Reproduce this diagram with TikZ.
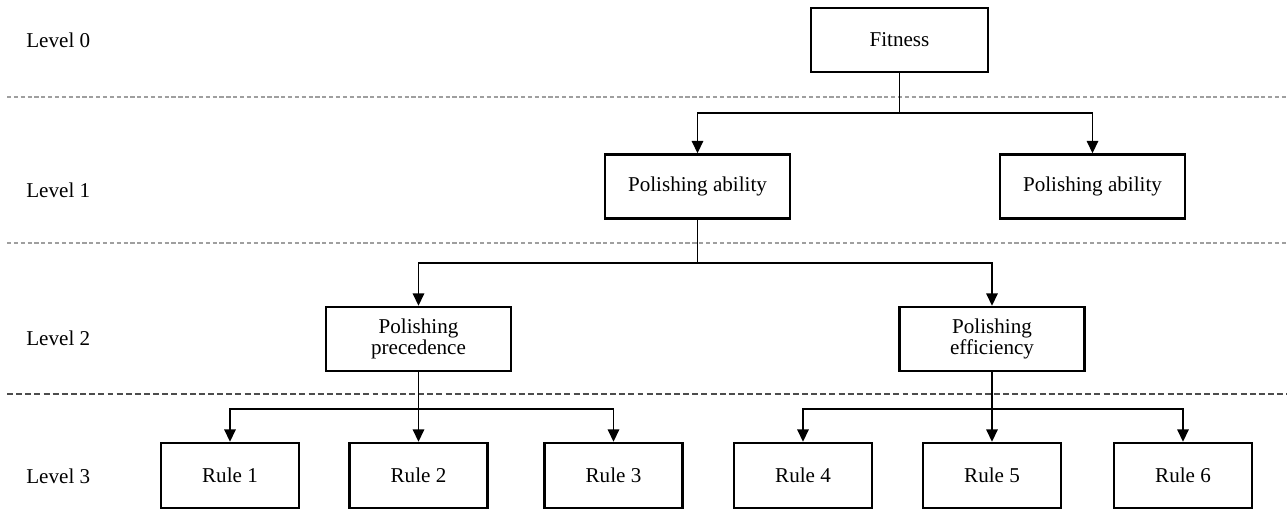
\documentclass[tikz,border=0pt]{standalone}
\usepackage{fontspec}
\setmainfont{Liberation Serif}
\usetikzlibrary{arrows.meta}
\begin{document}
\begin{tikzpicture}[font=\fontsize{12}{11.5}\selectfont] % иерархия показателей
\tikzstyle{mybox} = [draw, line width=1.4pt, align=center, inner sep=2pt] % общий стиль блока
\tikzstyle{bigbox} = [mybox, minimum width=3.7cm, minimum height=1.28cm] % блоки уровней 0-2
\tikzstyle{rulebox} = [mybox, minimum width=2.76cm, minimum height=1.3cm] % блоки правил
\tikzstyle{lvl} = [anchor=west, inner sep=0pt] % подписи уровней
\tikzstyle{myline} = [line width=0.75pt] % соединительная линия
\tikzstyle{myarrow} = [myline, -{Triangle[length=7pt,width=6.5pt]}] % линия со стрелкой
\tikzstyle{finedash} = [gray!75, line width=0.6pt, dash pattern=on 2.4pt off 1.5pt]
\tikzstyle{coarsedash} = [black!70, line width=0.6pt, dash pattern=on 3.4pt off 1.8pt]
\useasboundingbox (0,0) rectangle (25.74,-10.18);
% подписи уровней
\node[lvl] (l0) at (0.52,-0.80) {Level 0};
\node[lvl] (l1) at (0.52,-3.80) {Level 1};
\node[lvl] (l2) at (0.52,-6.76) {Level 2};
\node[lvl] (l3) at (0.52,-9.52) {Level 3};
% разделители
\draw[finedash] (0.14,-1.94) -- (25.74,-1.94);
\draw[finedash] (0.14,-4.86) -- (25.74,-4.86);
\draw[coarsedash] (0.14,-7.88) -- (25.74,-7.88);
% блоки
\node[bigbox, minimum width=3.54cm] (fit) at (17.99,-0.80) {Fitness};
\node[bigbox] (pa1) at (13.95,-3.73) {Polishing ability};
\node[bigbox] (pa2) at (21.85,-3.73) {Polishing ability};
\node[bigbox] (pp) at (8.37,-6.78) {Polishing\\precedence};
\node[bigbox] (pe) at (19.84,-6.78) {Polishing\\efficiency};
\node[rulebox] (r1) at (4.60,-9.51) {Rule 1};
\node[rulebox] (r2) at (8.37,-9.51) {Rule 2};
\node[rulebox] (r3) at (12.27,-9.51) {Rule 3};
\node[rulebox] (r4) at (16.06,-9.51) {Rule 4};
\node[rulebox] (r5) at (19.84,-9.51) {Rule 5};
\node[rulebox] (r6) at (23.66,-9.51) {Rule 6};
% точки ветвления
\coordinate (j0) at (17.99,-2.26);
\coordinate (j1) at (13.95,-5.26);
\coordinate (j2) at (8.37,-8.18);
\coordinate (j3) at (19.84,-8.18);
% связи
\draw[myline] (fit.south) -- (j0);
\draw[myarrow] (j0) -| (pa1.north);
\draw[myarrow] (j0) -| (pa2.north);
\draw[myline] (pa1.south) -- (j1);
\draw[myarrow] (j1) -| (pp.north);
\draw[myarrow] (j1) -| (pe.north);
\draw[myarrow] (pp.south) -- (r2.north);
\draw[myarrow] (j2) -| (r1.north);
\draw[myarrow] (j2) -| (r3.north);
\draw[myarrow] (pe.south) -- (r5.north);
\draw[myarrow] (j3) -| (r4.north);
\draw[myarrow] (j3) -| (r6.north);
\end{tikzpicture}
\end{document}
